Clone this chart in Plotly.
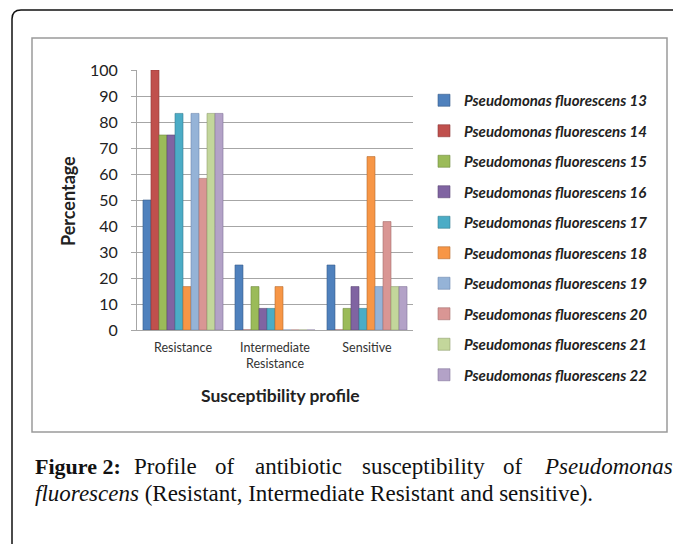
import plotly.graph_objects as go

categories = ["Resistance", "Intermediate<br>Resistance", "Sensitive"]
series_names = [f"Pseudomonas fluorescens {i}" for i in range(13, 23)]
resistance = [50, 100, 75, 75, 83.3, 16.7, 83.3, 58.3, 83.3, 83.3]
intermediate = [25, 0, 16.7, 8.3, 8.3, 16.7, 0, 0, 0, 0]
sensitive = [25, 0, 8.3, 16.7, 8.3, 66.7, 16.7, 41.7, 16.7, 16.7]
colors = ["#4F81BD", "#C0504D", "#9BBB59", "#8064A2", "#4BACC6",
          "#F79646", "#95B3D7", "#D99694", "#C3D69B", "#B3A2C7"]
edges = ["#385D8A", "#8C3836", "#71893F", "#5C4776", "#357D91",
         "#B66D31", "#6D88AE", "#A46F6D", "#90A070", "#83769A"]
y_ticks = list(range(0, 101, 10))

# page body has an 8px margin; figure is sized so it ends at the window edge
OFF = 8
W, H = 681 - OFF, 544 - OFF
# plot area in screen pixels
L, R, T, B = 137, 413, 70, 330
pw, ph = R - L, B - T


def xp(x):
    return (x - L) / pw


def yp(y):
    return (B - y) / ph


fig = go.Figure()
for i, name in enumerate(series_names):
    fig.add_trace(go.Bar(
        name=name,
        x=categories,
        y=[resistance[i], intermediate[i], sensitive[i]],
        marker=dict(color=colors[i], line=dict(color=edges[i], width=0.6)),
        legendgroup=name,
    ))

shapes = [
    dict(type="path", xref="paper", yref="paper",
         path=(f"M {xp(12)},{yp(560)} L {xp(12)},{yp(19)} "
               f"Q {xp(12)},{yp(10)} {xp(21)},{yp(10)} L {xp(700)},{yp(10)}"),
         line=dict(color="#111111", width=1.5), layer="below"),
    dict(type="rect", xref="paper", yref="paper",
         x0=xp(32), x1=xp(667), y0=yp(432), y1=yp(38),
         line=dict(color="#9a9a9a", width=1.5), fillcolor="white", layer="below"),
]

annotations = [
    dict(text="<b>Percentage</b>", xref="paper", yref="paper", x=xp(68), y=yp(201),
         textangle=-90, showarrow=False, xanchor="center", yanchor="middle",
         font=dict(family="Lato", size=18, color="#222")),
    dict(text="<b>Susceptibility profile</b>", xref="paper", yref="paper", x=xp(280), y=yp(395),
         showarrow=False, xanchor="center", yanchor="middle",
         font=dict(family="Lato", size=17.5, color="#222")),
]

cap_font = dict(family="Liberation Serif", size=23, color="#111")
bold_font = dict(family="Liberation Serif", size=22, color="#111")
cap_words = [
    ("<b>Figure 2:</b>", 33, "left", bold_font),
    ("Profile", 165, "center", cap_font),
    ("of", 225, "center", cap_font),
    ("antibiotic", 298, "center", cap_font),
    ("susceptibility", 423, "center", cap_font),
    ("of", 513, "center", cap_font),
    ("<i>Pseudomonas</i>", 675, "right", cap_font),
]
for txt, x, anc, f in cap_words:
    annotations.append(dict(text=txt, xref="paper", yref="paper", x=xp(x), y=yp(466),
                            showarrow=False, xanchor=anc, yanchor="middle", font=f))
annotations.append(dict(text="<i>fluorescens</i> (Resistant, Intermediate Resistant and sensitive).",
                        xref="paper", yref="paper", x=xp(33), y=yp(493), showarrow=False,
                        xanchor="left", yanchor="middle", font=cap_font))

fig.update_layout(
    width=W, height=H,
    margin=dict(l=L - OFF, r=W - (R - OFF), t=T - OFF, b=H - (B - OFF), autoexpand=False),
    paper_bgcolor="white", plot_bgcolor="white",
    barmode="group", bargap=0.13, bargroupgap=0,
    shapes=shapes, annotations=annotations,
    showlegend=True,
    legend=dict(x=xp(424), y=yp(84), xanchor="left", yanchor="top", maxheight=420,
                font=dict(family="Lato", size=15, color="#222", style="italic", weight="bold"),
                tracegroupgap=8, bgcolor="rgba(0,0,0,0)", itemclick=False),
    xaxis=dict(showgrid=False, showline=True, linecolor="#a6a6a6", linewidth=1,
               tickfont=dict(family="Lato", size=12.5, color="#333"), ticks="",
               ticklabelstandoff=6, range=[-0.5, 2.5], fixedrange=True),
    yaxis=dict(range=[0, 100], tickvals=y_ticks, showgrid=True, gridcolor="#a6a6a6", gridwidth=1,
               showline=True, linecolor="#a6a6a6", ticks="outside", ticklen=5, tickcolor="#a6a6a6",
               ticklabelstandoff=10,
               tickfont=dict(family="Lato", size=16, color="#222"), zeroline=False, fixedrange=True),
)

fig.write_html("out.html")
